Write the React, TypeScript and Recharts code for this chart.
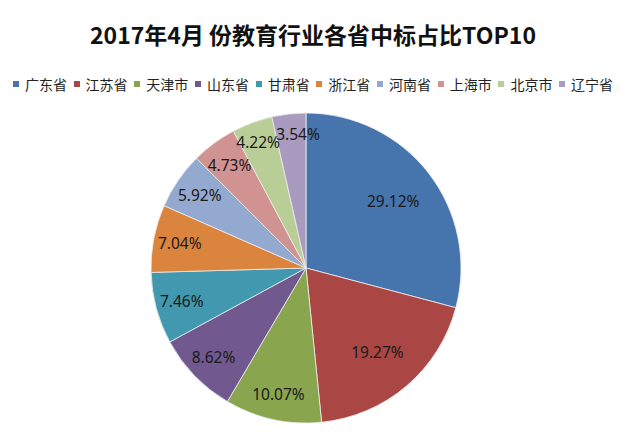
import React from 'react';
import { PieChart, Pie, Cell, Legend } from 'recharts';

const provinces = ['广东省', '江苏省', '天津市', '山东省', '甘肃省', '浙江省', '河南省', '上海市', '北京市', '辽宁省'];
const shares = [29.12, 19.27, 10.07, 8.62, 7.46, 7.04, 5.92, 4.73, 4.22, 3.54];
const colors = ['#4674AC', '#AA4643', '#89A54E', '#71588F', '#4198AF', '#DB843D', '#93A9CF', '#D19392', '#B9CD96', '#A99BC0'];
const title = '2017年4月 份教育行业各省中标占比TOP10';

const data = provinces.map((name, i) => ({ name, value: shares[i] }));

const RADIAN = Math.PI / 180;

const renderLabel = (props: any) => {
  const { cx, cy, midAngle, outerRadius, percent, index } = props;
  const f = percent > 0.15 ? 0.71 : percent < 0.045 ? 0.87 : 0.83;
  const r = outerRadius * f;
  const x = cx + r * Math.cos(-midAngle * RADIAN) + (percent < 0.04 ? 7 : percent < 0.045 ? -1 : 0);
  const y = cy + r * Math.sin(-midAngle * RADIAN);
  return (
    <text
      x={x}
      y={y}
      fill="#1a1a1a"
      textAnchor="middle"
      dominantBaseline="central"
      fontSize={15.5}
      fontFamily="'Noto Sans', sans-serif"
    >
      {shares[index].toFixed(2) + '%'}
    </text>
  );
};

const renderLegend = (props: any) => {
  const payload = [...(props.payload || [])].sort(
    (a: any, b: any) => provinces.indexOf(a.value) - provinces.indexOf(b.value)
  );
  return (
    <div
      style={{
        display: 'flex',
        justifyContent: 'center',
        alignItems: 'center',
        fontFamily: "'Noto Sans CJK SC', sans-serif",
        fontSize: 14,
        color: '#222',
        lineHeight: '18px',
      }}
    >
      {payload.map((p: any, i: number) => {
        const idx = provinces.indexOf(p.value);
        return (
          <div key={i} style={{ display: 'flex', alignItems: 'center', marginRight: i < payload.length - 1 ? 6.7 : 0 }}>
            <span style={{ display: 'inline-block', width: 6, height: 6, background: colors[idx] || p.color, marginRight: 6 }} />
            <span>{p.value}</span>
          </div>
        );
      })}
    </div>
  );
};

export default function App() {
  return (
    <div style={{ position: 'absolute', left: 0, top: 0, width: 626, height: 437, background: '#fff' }}>
      <div
        style={{
          position: 'absolute',
          left: 0,
          top: 19,
          width: 626,
          textAlign: 'center',
          fontFamily: "'Noto Sans CJK SC', sans-serif",
          fontWeight: 'bold',
          fontSize: 23,
          lineHeight: '30px',
          color: '#111',
        }}
      >
        {title}
      </div>
      <PieChart width={626} height={437} margin={{ top: 0, right: 0, bottom: 0, left: 0 }}>
        <Legend
          content={renderLegend}
          verticalAlign="middle"
          wrapperStyle={{ position: 'absolute', top: 75, left: 0, width: 626 }}
        />
        <Pie
          data={data}
          dataKey="value"
          nameKey="name"
          cx={306}
          cy={268}
          outerRadius={155}
          startAngle={90}
          endAngle={-270}
          stroke="#eeeeee"
          strokeWidth={0.8}
          label={renderLabel}
          labelLine={false}
          isAnimationActive={false}
        >
          {data.map((d, i) => (
            <Cell key={d.name} fill={colors[i]} />
          ))}
        </Pie>
      </PieChart>
    </div>
  );
}
